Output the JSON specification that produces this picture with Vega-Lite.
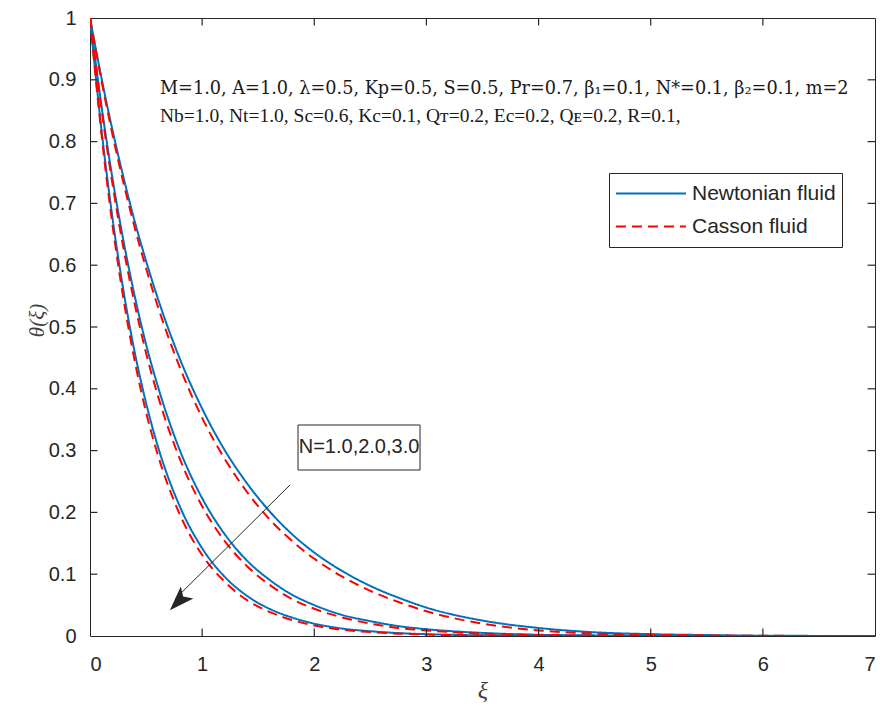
{
"$schema":"https://vega.github.io/schema/vega-lite/v6.json",
"width":785,"height":618,
"autosize":{"type":"none"},
"padding":{"left":90,"top":18,"right":9,"bottom":77},
"background":"white",
"config":{"view":{"stroke":"#262626","strokeWidth":1},
"axis":{"grid":false,"labelFont":"Liberation Sans","labelFontSize":20,"labelColor":"#262626"}},
"datasets":{"curves":[
{"xi":0,"theta":1,"N":"1","fluid":"Newtonian fluid"},{"xi":0.1,"theta":0.905,"N":"1","fluid":"Newtonian fluid"},{"xi":0.2,"theta":0.819,"N":"1","fluid":"Newtonian fluid"},{"xi":0.3,"theta":0.741,"N":"1","fluid":"Newtonian fluid"},{"xi":0.4,"theta":0.67,"N":"1","fluid":"Newtonian fluid"},{"xi":0.5,"theta":0.607,"N":"1","fluid":"Newtonian fluid"},{"xi":0.6,"theta":0.549,"N":"1","fluid":"Newtonian fluid"},{"xi":0.8,"theta":0.449,"N":"1","fluid":"Newtonian fluid"},{"xi":1,"theta":0.368,"N":"1","fluid":"Newtonian fluid"},{"xi":1.2,"theta":0.301,"N":"1","fluid":"Newtonian fluid"},{"xi":1.4,"theta":0.247,"N":"1","fluid":"Newtonian fluid"},{"xi":1.6,"theta":0.202,"N":"1","fluid":"Newtonian fluid"},{"xi":1.8,"theta":0.165,"N":"1","fluid":"Newtonian fluid"},{"xi":2,"theta":0.135,"N":"1","fluid":"Newtonian fluid"},{"xi":2.25,"theta":0.105,"N":"1","fluid":"Newtonian fluid"},{"xi":2.5,"theta":0.081,"N":"1","fluid":"Newtonian fluid"},{"xi":2.75,"theta":0.062,"N":"1","fluid":"Newtonian fluid"},{"xi":3,"theta":0.046,"N":"1","fluid":"Newtonian fluid"},{"xi":3.5,"theta":0.025,"N":"1","fluid":"Newtonian fluid"},{"xi":4,"theta":0.013,"N":"1","fluid":"Newtonian fluid"},{"xi":4.5,"theta":0.006,"N":"1","fluid":"Newtonian fluid"},{"xi":5,"theta":0.003,"N":"1","fluid":"Newtonian fluid"},{"xi":5.5,"theta":0.0015,"N":"1","fluid":"Newtonian fluid"},{"xi":6,"theta":0.0005,"N":"1","fluid":"Newtonian fluid"},{"xi":7,"theta":0,"N":"1","fluid":"Newtonian fluid"},
{"xi":0,"theta":1,"N":"1","fluid":"Casson fluid"},{"xi":0.1,"theta":0.901,"N":"1","fluid":"Casson fluid"},{"xi":0.2,"theta":0.812,"N":"1","fluid":"Casson fluid"},{"xi":0.3,"theta":0.732,"N":"1","fluid":"Casson fluid"},{"xi":0.4,"theta":0.66,"N":"1","fluid":"Casson fluid"},{"xi":0.5,"theta":0.595,"N":"1","fluid":"Casson fluid"},{"xi":0.6,"theta":0.536,"N":"1","fluid":"Casson fluid"},{"xi":0.8,"theta":0.435,"N":"1","fluid":"Casson fluid"},{"xi":1,"theta":0.353,"N":"1","fluid":"Casson fluid"},{"xi":1.2,"theta":0.287,"N":"1","fluid":"Casson fluid"},{"xi":1.4,"theta":0.233,"N":"1","fluid":"Casson fluid"},{"xi":1.6,"theta":0.189,"N":"1","fluid":"Casson fluid"},{"xi":1.8,"theta":0.154,"N":"1","fluid":"Casson fluid"},{"xi":2,"theta":0.125,"N":"1","fluid":"Casson fluid"},{"xi":2.25,"theta":0.096,"N":"1","fluid":"Casson fluid"},{"xi":2.5,"theta":0.073,"N":"1","fluid":"Casson fluid"},{"xi":2.75,"theta":0.055,"N":"1","fluid":"Casson fluid"},{"xi":3,"theta":0.04,"N":"1","fluid":"Casson fluid"},{"xi":3.5,"theta":0.02,"N":"1","fluid":"Casson fluid"},{"xi":4,"theta":0.009,"N":"1","fluid":"Casson fluid"},{"xi":4.5,"theta":0.004,"N":"1","fluid":"Casson fluid"},{"xi":5,"theta":0.002,"N":"1","fluid":"Casson fluid"},{"xi":5.5,"theta":0.001,"N":"1","fluid":"Casson fluid"},{"xi":6,"theta":0.0003,"N":"1","fluid":"Casson fluid"},{"xi":7,"theta":0,"N":"1","fluid":"Casson fluid"},
{"xi":0,"theta":1,"N":"2","fluid":"Newtonian fluid"},{"xi":0.1,"theta":0.861,"N":"2","fluid":"Newtonian fluid"},{"xi":0.2,"theta":0.741,"N":"2","fluid":"Newtonian fluid"},{"xi":0.3,"theta":0.638,"N":"2","fluid":"Newtonian fluid"},{"xi":0.4,"theta":0.549,"N":"2","fluid":"Newtonian fluid"},{"xi":0.5,"theta":0.472,"N":"2","fluid":"Newtonian fluid"},{"xi":0.6,"theta":0.407,"N":"2","fluid":"Newtonian fluid"},{"xi":0.8,"theta":0.301,"N":"2","fluid":"Newtonian fluid"},{"xi":1,"theta":0.223,"N":"2","fluid":"Newtonian fluid"},{"xi":1.2,"theta":0.165,"N":"2","fluid":"Newtonian fluid"},{"xi":1.4,"theta":0.122,"N":"2","fluid":"Newtonian fluid"},{"xi":1.6,"theta":0.091,"N":"2","fluid":"Newtonian fluid"},{"xi":1.8,"theta":0.067,"N":"2","fluid":"Newtonian fluid"},{"xi":2,"theta":0.05,"N":"2","fluid":"Newtonian fluid"},{"xi":2.25,"theta":0.034,"N":"2","fluid":"Newtonian fluid"},{"xi":2.5,"theta":0.024,"N":"2","fluid":"Newtonian fluid"},{"xi":2.75,"theta":0.016,"N":"2","fluid":"Newtonian fluid"},{"xi":3,"theta":0.011,"N":"2","fluid":"Newtonian fluid"},{"xi":3.5,"theta":0.005,"N":"2","fluid":"Newtonian fluid"},{"xi":4,"theta":0.002,"N":"2","fluid":"Newtonian fluid"},{"xi":4.5,"theta":0.001,"N":"2","fluid":"Newtonian fluid"},{"xi":5,"theta":0.0005,"N":"2","fluid":"Newtonian fluid"},{"xi":5.5,"theta":0.0002,"N":"2","fluid":"Newtonian fluid"},{"xi":6,"theta":0,"N":"2","fluid":"Newtonian fluid"},{"xi":7,"theta":0,"N":"2","fluid":"Newtonian fluid"},
{"xi":0,"theta":1,"N":"2","fluid":"Casson fluid"},{"xi":0.1,"theta":0.856,"N":"2","fluid":"Casson fluid"},{"xi":0.2,"theta":0.732,"N":"2","fluid":"Casson fluid"},{"xi":0.3,"theta":0.626,"N":"2","fluid":"Casson fluid"},{"xi":0.4,"theta":0.536,"N":"2","fluid":"Casson fluid"},{"xi":0.5,"theta":0.458,"N":"2","fluid":"Casson fluid"},{"xi":0.6,"theta":0.392,"N":"2","fluid":"Casson fluid"},{"xi":0.8,"theta":0.287,"N":"2","fluid":"Casson fluid"},{"xi":1,"theta":0.21,"N":"2","fluid":"Casson fluid"},{"xi":1.2,"theta":0.154,"N":"2","fluid":"Casson fluid"},{"xi":1.4,"theta":0.113,"N":"2","fluid":"Casson fluid"},{"xi":1.6,"theta":0.083,"N":"2","fluid":"Casson fluid"},{"xi":1.8,"theta":0.06,"N":"2","fluid":"Casson fluid"},{"xi":2,"theta":0.044,"N":"2","fluid":"Casson fluid"},{"xi":2.25,"theta":0.03,"N":"2","fluid":"Casson fluid"},{"xi":2.5,"theta":0.02,"N":"2","fluid":"Casson fluid"},{"xi":2.75,"theta":0.013,"N":"2","fluid":"Casson fluid"},{"xi":3,"theta":0.009,"N":"2","fluid":"Casson fluid"},{"xi":3.5,"theta":0.004,"N":"2","fluid":"Casson fluid"},{"xi":4,"theta":0.0015,"N":"2","fluid":"Casson fluid"},{"xi":4.5,"theta":0.0006,"N":"2","fluid":"Casson fluid"},{"xi":5,"theta":0.0002,"N":"2","fluid":"Casson fluid"},{"xi":5.5,"theta":0,"N":"2","fluid":"Casson fluid"},{"xi":6,"theta":0,"N":"2","fluid":"Casson fluid"},{"xi":7,"theta":0,"N":"2","fluid":"Casson fluid"},
{"xi":0,"theta":1,"N":"3","fluid":"Newtonian fluid"},{"xi":0.1,"theta":0.823,"N":"3","fluid":"Newtonian fluid"},{"xi":0.2,"theta":0.677,"N":"3","fluid":"Newtonian fluid"},{"xi":0.3,"theta":0.557,"N":"3","fluid":"Newtonian fluid"},{"xi":0.4,"theta":0.458,"N":"3","fluid":"Newtonian fluid"},{"xi":0.5,"theta":0.377,"N":"3","fluid":"Newtonian fluid"},{"xi":0.6,"theta":0.31,"N":"3","fluid":"Newtonian fluid"},{"xi":0.8,"theta":0.21,"N":"3","fluid":"Newtonian fluid"},{"xi":1,"theta":0.142,"N":"3","fluid":"Newtonian fluid"},{"xi":1.2,"theta":0.096,"N":"3","fluid":"Newtonian fluid"},{"xi":1.4,"theta":0.065,"N":"3","fluid":"Newtonian fluid"},{"xi":1.6,"theta":0.044,"N":"3","fluid":"Newtonian fluid"},{"xi":1.8,"theta":0.03,"N":"3","fluid":"Newtonian fluid"},{"xi":2,"theta":0.02,"N":"3","fluid":"Newtonian fluid"},{"xi":2.25,"theta":0.012,"N":"3","fluid":"Newtonian fluid"},{"xi":2.5,"theta":0.0077,"N":"3","fluid":"Newtonian fluid"},{"xi":2.75,"theta":0.0047,"N":"3","fluid":"Newtonian fluid"},{"xi":3,"theta":0.0029,"N":"3","fluid":"Newtonian fluid"},{"xi":3.5,"theta":0.0011,"N":"3","fluid":"Newtonian fluid"},{"xi":4,"theta":0.0004,"N":"3","fluid":"Newtonian fluid"},{"xi":4.5,"theta":0.0002,"N":"3","fluid":"Newtonian fluid"},{"xi":5,"theta":0,"N":"3","fluid":"Newtonian fluid"},{"xi":5.5,"theta":0,"N":"3","fluid":"Newtonian fluid"},{"xi":6,"theta":0,"N":"3","fluid":"Newtonian fluid"},{"xi":7,"theta":0,"N":"3","fluid":"Newtonian fluid"},
{"xi":0,"theta":1,"N":"3","fluid":"Casson fluid"},{"xi":0.1,"theta":0.816,"N":"3","fluid":"Casson fluid"},{"xi":0.2,"theta":0.666,"N":"3","fluid":"Casson fluid"},{"xi":0.3,"theta":0.544,"N":"3","fluid":"Casson fluid"},{"xi":0.4,"theta":0.444,"N":"3","fluid":"Casson fluid"},{"xi":0.5,"theta":0.362,"N":"3","fluid":"Casson fluid"},{"xi":0.6,"theta":0.296,"N":"3","fluid":"Casson fluid"},{"xi":0.8,"theta":0.197,"N":"3","fluid":"Casson fluid"},{"xi":1,"theta":0.131,"N":"3","fluid":"Casson fluid"},{"xi":1.2,"theta":0.088,"N":"3","fluid":"Casson fluid"},{"xi":1.4,"theta":0.058,"N":"3","fluid":"Casson fluid"},{"xi":1.6,"theta":0.039,"N":"3","fluid":"Casson fluid"},{"xi":1.8,"theta":0.026,"N":"3","fluid":"Casson fluid"},{"xi":2,"theta":0.017,"N":"3","fluid":"Casson fluid"},{"xi":2.25,"theta":0.01,"N":"3","fluid":"Casson fluid"},{"xi":2.5,"theta":0.0063,"N":"3","fluid":"Casson fluid"},{"xi":2.75,"theta":0.0038,"N":"3","fluid":"Casson fluid"},{"xi":3,"theta":0.0023,"N":"3","fluid":"Casson fluid"},{"xi":3.5,"theta":0.0008,"N":"3","fluid":"Casson fluid"},{"xi":4,"theta":0.0003,"N":"3","fluid":"Casson fluid"},{"xi":4.5,"theta":0.0001,"N":"3","fluid":"Casson fluid"},{"xi":5,"theta":0,"N":"3","fluid":"Casson fluid"},{"xi":5.5,"theta":0,"N":"3","fluid":"Casson fluid"},{"xi":6,"theta":0,"N":"3","fluid":"Casson fluid"},{"xi":7,"theta":0,"N":"3","fluid":"Casson fluid"}
],
"xticks":[{"v":1},{"v":2},{"v":3},{"v":4},{"v":5},{"v":6}],
"yticks":[{"v":0.1},{"v":0.2},{"v":0.3},{"v":0.4},{"v":0.5},{"v":0.6},{"v":0.7},{"v":0.8},{"v":0.9}],
"arrow":[{"xi":1.783,"theta":0.2443},{"xi":0.76,"theta":0.06}]
},
"layer":[
{"data":{"name":"curves"},"transform":[{"filter":"datum.fluid == 'Newtonian fluid'"}],
 "mark":{"type":"line","strokeWidth":2,"interpolate":"monotone","clip":true},
 "encoding":{
  "x":{"field":"xi","type":"quantitative","scale":{"domain":[0,7],"nice":false},"axis":{"orient":"bottom","values":[0,1,2,3,4,5,6,7],"ticks":false,"domain":false,"labelPadding":18,"title":"ξ","titleFont":"Liberation Serif","titleFontStyle":"italic","titleFontWeight":"normal","titleFontSize":24,"titleColor":"#404040","titleY":54,"titleBaseline":"middle"}},
  "y":{"field":"theta","type":"quantitative","scale":{"domain":[0,1],"nice":false,"zero":false},"axis":{"orient":"left","values":[0,0.1,0.2,0.3,0.4,0.5,0.6,0.7,0.8,0.9,1],"ticks":false,"domain":false,"labelExpr":"datum.value == 0 ? '0' : datum.value == 1 ? '1' : format(datum.value, '.1f')","labelPadding":14,"title":"θ(ξ)","titleFont":"Liberation Serif","titleFontStyle":"italic","titleFontWeight":"normal","titleFontSize":21,"titleColor":"#404040","titleX":-53,"titleY":302,"titleAngle":-90,"titleBaseline":"middle","titleAlign":"center"}},
  "color":{"field":"fluid","type":"nominal","scale":{"domain":["Newtonian fluid","Casson fluid"],"range":["#0072BD","#FF0000"]},
   "legend":{"orient":"none","legendX":519,"legendY":155,"title":null,"symbolType":"stroke","symbolSize":4900,"symbolStrokeWidth":2,"labelFont":"Liberation Sans","labelFontSize":21,"labelColor":"#262626","strokeColor":"#262626","fillColor":"white","padding":6,"labelOffset":5,"clipHeight":29,"rowPadding":4}},
  "strokeDash":{"field":"fluid","type":"nominal","scale":{"domain":["Newtonian fluid","Casson fluid"],"range":[[1,0],[10,6]]}},
  "detail":{"field":"N"}}},
{"data":{"name":"curves"},"transform":[{"filter":"datum.fluid == 'Casson fluid'"}],
 "mark":{"type":"line","strokeWidth":2,"interpolate":"monotone","clip":true},
 "encoding":{
  "x":{"field":"xi","type":"quantitative","axis":null},
  "y":{"field":"theta","type":"quantitative","axis":null},
  "color":{"field":"fluid","type":"nominal"},
  "strokeDash":{"field":"fluid","type":"nominal"},
  "detail":{"field":"N"}}},
{"data":{"name":"xticks"},"mark":{"type":"rule","color":"#262626","strokeWidth":1.2,"opacity":1},
 "encoding":{"x":{"field":"v","type":"quantitative","axis":null},"y":{"datum":0,"type":"quantitative","axis":null},"y2":{"datum":0.012}}},
{"data":{"name":"xticks"},"mark":{"type":"rule","color":"#262626","strokeWidth":1.2,"opacity":1},
 "encoding":{"x":{"field":"v","type":"quantitative","axis":null},"y":{"datum":1,"type":"quantitative","axis":null},"y2":{"datum":0.988}}},
{"data":{"name":"yticks"},"mark":{"type":"rule","color":"#262626","strokeWidth":1.2,"opacity":1},
 "encoding":{"y":{"field":"v","type":"quantitative","axis":null},"x":{"datum":0,"type":"quantitative","axis":null},"x2":{"datum":0.066}}},
{"data":{"name":"yticks"},"mark":{"type":"rule","color":"#262626","strokeWidth":1.2,"opacity":1},
 "encoding":{"y":{"field":"v","type":"quantitative","axis":null},"x":{"datum":7,"type":"quantitative","axis":null},"x2":{"datum":6.934}}},
{"data":{"name":"arrow"},"mark":{"type":"line","color":"#262626","strokeWidth":1},
 "encoding":{"x":{"field":"xi","type":"quantitative","axis":null},"y":{"field":"theta","type":"quantitative","axis":null}}},
{"data":{"values":[{}]},"mark":{"type":"point","shape":"M0,-1L0.62,0.75L0,0.35L-0.62,0.75Z","filled":true,"color":"#262626","size":800,"angle":224,"opacity":1},
 "encoding":{"x":{"datum":0.8,"type":"quantitative","axis":null},"y":{"datum":0.058,"type":"quantitative","axis":null}}},
{"data":{"values":[{}]},"mark":{"type":"rect","fill":"white","stroke":"#262626","strokeWidth":1},
 "encoding":{"x":{"datum":1.855,"type":"quantitative","axis":null},"x2":{"datum":2.943},"y":{"datum":0.3414,"type":"quantitative","axis":null},"y2":{"datum":0.2686}}},
{"data":{"values":[{"label":"N=1.0,2.0,3.0"}]},"mark":{"type":"text","font":"Liberation Sans","fontSize":20,"color":"#262626","align":"center","baseline":"middle"},
 "encoding":{"x":{"datum":2.399,"type":"quantitative","axis":null},"y":{"datum":0.3058,"type":"quantitative","axis":null},"text":{"field":"label"}}},
{"data":{"values":[{"label":"M=1.0, A=1.0, λ=0.5, Kp=0.5, S=0.5, Pr=0.7, β₁=0.1, N*=0.1, β₂=0.1, m=2"}]},
 "mark":{"type":"text","font":"DejaVu Serif","fontSize":17.7,"color":"#1a1a1a","align":"left","baseline":"middle"},
 "encoding":{"x":{"datum":0.624,"type":"quantitative","axis":null},"y":{"datum":0.885,"type":"quantitative","axis":null},"text":{"field":"label"}}},
{"data":{"values":[{"label":"Nb=1.0, Nt=1.0, Sc=0.6, Kc=0.1, Qᴛ=0.2, Ec=0.2, Qᴇ=0.2, R=0.1,"}]},
 "mark":{"type":"text","font":"Liberation Serif","fontSize":19.5,"color":"#1a1a1a","align":"left","baseline":"middle"},
 "encoding":{"x":{"datum":0.624,"type":"quantitative","axis":null},"y":{"datum":0.8414,"type":"quantitative","axis":null},"text":{"field":"label"}}}
],
"resolve":{"axis":{"x":"independent","y":"independent"}}
}
